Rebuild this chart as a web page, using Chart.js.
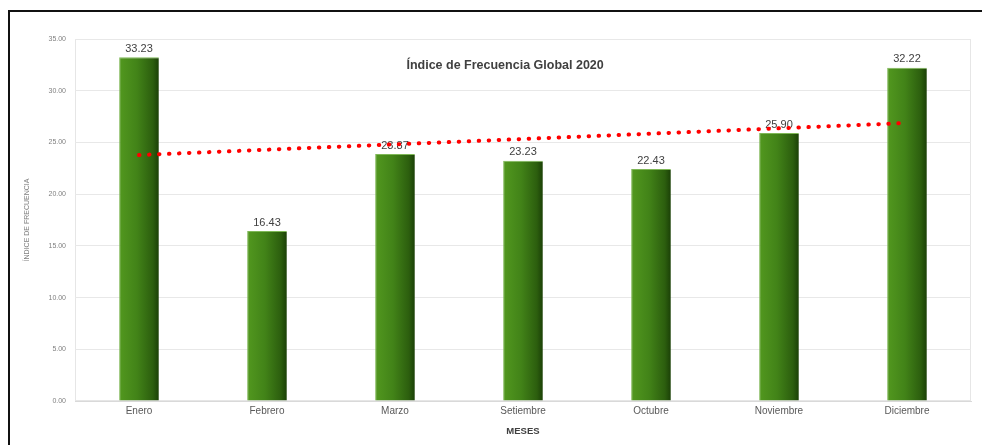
<!DOCTYPE html>
<html>
<head>
<meta charset="utf-8">
<script src="https://cdn.jsdelivr.net/npm/chart.js@4.4.1/dist/chart.umd.min.js"></script>
<style>
  html, body { margin: 0; padding: 0; background: #fff; }
  #wrap { position: relative; width: 982px; height: 445px; }
  canvas { display: block; }
</style>
</head>
<body>
<div id="wrap"><canvas id="c" width="982" height="445"></canvas></div>
<script>
// Monthly global frequency index, 2020
const meses = ['Enero', 'Febrero', 'Marzo', 'Setiembre', 'Octubre', 'Noviembre', 'Diciembre'];
const indice = [33.23, 16.43, 23.87, 23.23, 22.43, 25.90, 32.22];
// Linear trend: value at first and last month
const tendencia = [23.78, null, null, null, null, null, 26.88];
const yTicks = [0, 5, 10, 15, 20, 25, 30, 35];

const titulo = 'Índice de Frecuencia Global 2020';
const FONT = '"Liberation Sans", Arial, sans-serif';
const BAR_PCT = 0.31;

// Horizontal shading for each bar: light green on the left, dark on the right
function barFill(ctx) {
  const chart = ctx.chart;
  const xs = chart.scales.x;
  if (!xs || !chart.chartArea) return '#3f7f17';
  const c = xs.getPixelForValue(ctx.dataIndex);
  const w = (xs.width / meses.length) * BAR_PCT;
  const g = chart.ctx.createLinearGradient(c - w / 2, 0, c + w / 2, 0);
  g.addColorStop(0, '#52981f');
  g.addColorStop(0.45, '#428318');
  g.addColorStop(0.85, '#2c5e0e');
  g.addColorStop(1, '#1b4007');
  return g;
}

const framePlugin = {
  id: 'frame',
  beforeDraw(chart) {
    const { ctx, chartArea: a } = chart;
    ctx.save();
    ctx.fillStyle = '#fff';
    ctx.fillRect(0, 0, chart.width, chart.height);
    // outer black frame (top and left edges)
    ctx.fillStyle = '#111';
    ctx.fillRect(8, 10, chart.width - 8, 2);
    ctx.fillRect(8, 10, 2, chart.height - 10);
    // plot area outline
    ctx.strokeStyle = '#e6e6e6';
    ctx.lineWidth = 1;
    ctx.strokeRect(a.left + 0.5, a.top + 0.5, a.width - 1, a.height - 1);
    ctx.restore();
  },
  afterDatasetDraw(chart, args) {
    if (args.index !== 0) return;
    const { ctx } = chart;
    const meta = chart.getDatasetMeta(0);
    ctx.save();
    ctx.font = '11px ' + FONT;
    ctx.fillStyle = '#404040';
    ctx.textAlign = 'center';
    ctx.textBaseline = 'bottom';
    meta.data.forEach((bar, i) => {
      ctx.fillText(indice[i].toFixed(2), bar.x, bar.y - 3);
    });
    ctx.restore();
  },
  afterDraw(chart) {
    const { ctx, chartArea: a } = chart;
    ctx.save();
    ctx.font = 'bold 12.5px ' + FONT;
    ctx.fillStyle = '#404040';
    ctx.textAlign = 'center';
    ctx.textBaseline = 'middle';
    ctx.fillText(titulo, a.left + a.width * 0.48, a.top + 27);
    ctx.restore();
  }
};

new Chart(document.getElementById('c'), {
  data: {
    labels: meses,
    datasets: [
      {
        type: 'bar',
        data: indice,
        order: 1,
        backgroundColor: barFill,
        borderColor: '#7fb857',
        borderWidth: { left: 1, right: 0, top: 1, bottom: 0 },
        categoryPercentage: 1,
        barPercentage: BAR_PCT
      },
      {
        type: 'line',
        data: tendencia,
        order: 0,
        spanGaps: true,
        borderColor: '#ff0000',
        borderWidth: 4,
        borderDash: [0.5, 9.5],
        borderCapStyle: 'round',
        pointRadius: 0,
        fill: false,
        tension: 0
      }
    ]
  },
  plugins: [framePlugin],
  options: {
    responsive: false,
    animation: false,
    layout: { padding: { left: 0, right: 11, top: 39, bottom: 0 } },
    plugins: { legend: { display: false }, tooltip: { enabled: false } },
    scales: {
      x: {
        grid: { display: false, drawTicks: false },
        border: { display: true, color: '#d9d9d9' },
        ticks: { color: '#595959', font: { family: FONT, size: 10 }, padding: 4 },
        title: { display: true, text: 'MESES', color: '#404040', font: { family: FONT, size: 9.5, weight: 'bold' }, padding: { top: 6, bottom: 8 } },
        afterFit(s) { s.height = 44; }
      },
      y: {
        min: 0, max: 35,
        afterBuildTicks(s) { s.ticks = yTicks.map(v => ({ value: v })); },
        grid: { color: '#e8e8e8', drawTicks: false },
        border: { display: false },
        ticks: {
          color: '#808080', font: { family: FONT, size: 7 }, padding: 9,
          callback: v => Number(v).toFixed(2)
        },
        title: { display: true, text: 'ÍNDICE DE FRECUENCIA', color: '#808080', font: { family: FONT, size: 7 }, padding: { top: 23, bottom: 8 } },
        afterFit(s) { s.width = 75; }
      }
    }
  }
});
</script>
</body>
</html>
